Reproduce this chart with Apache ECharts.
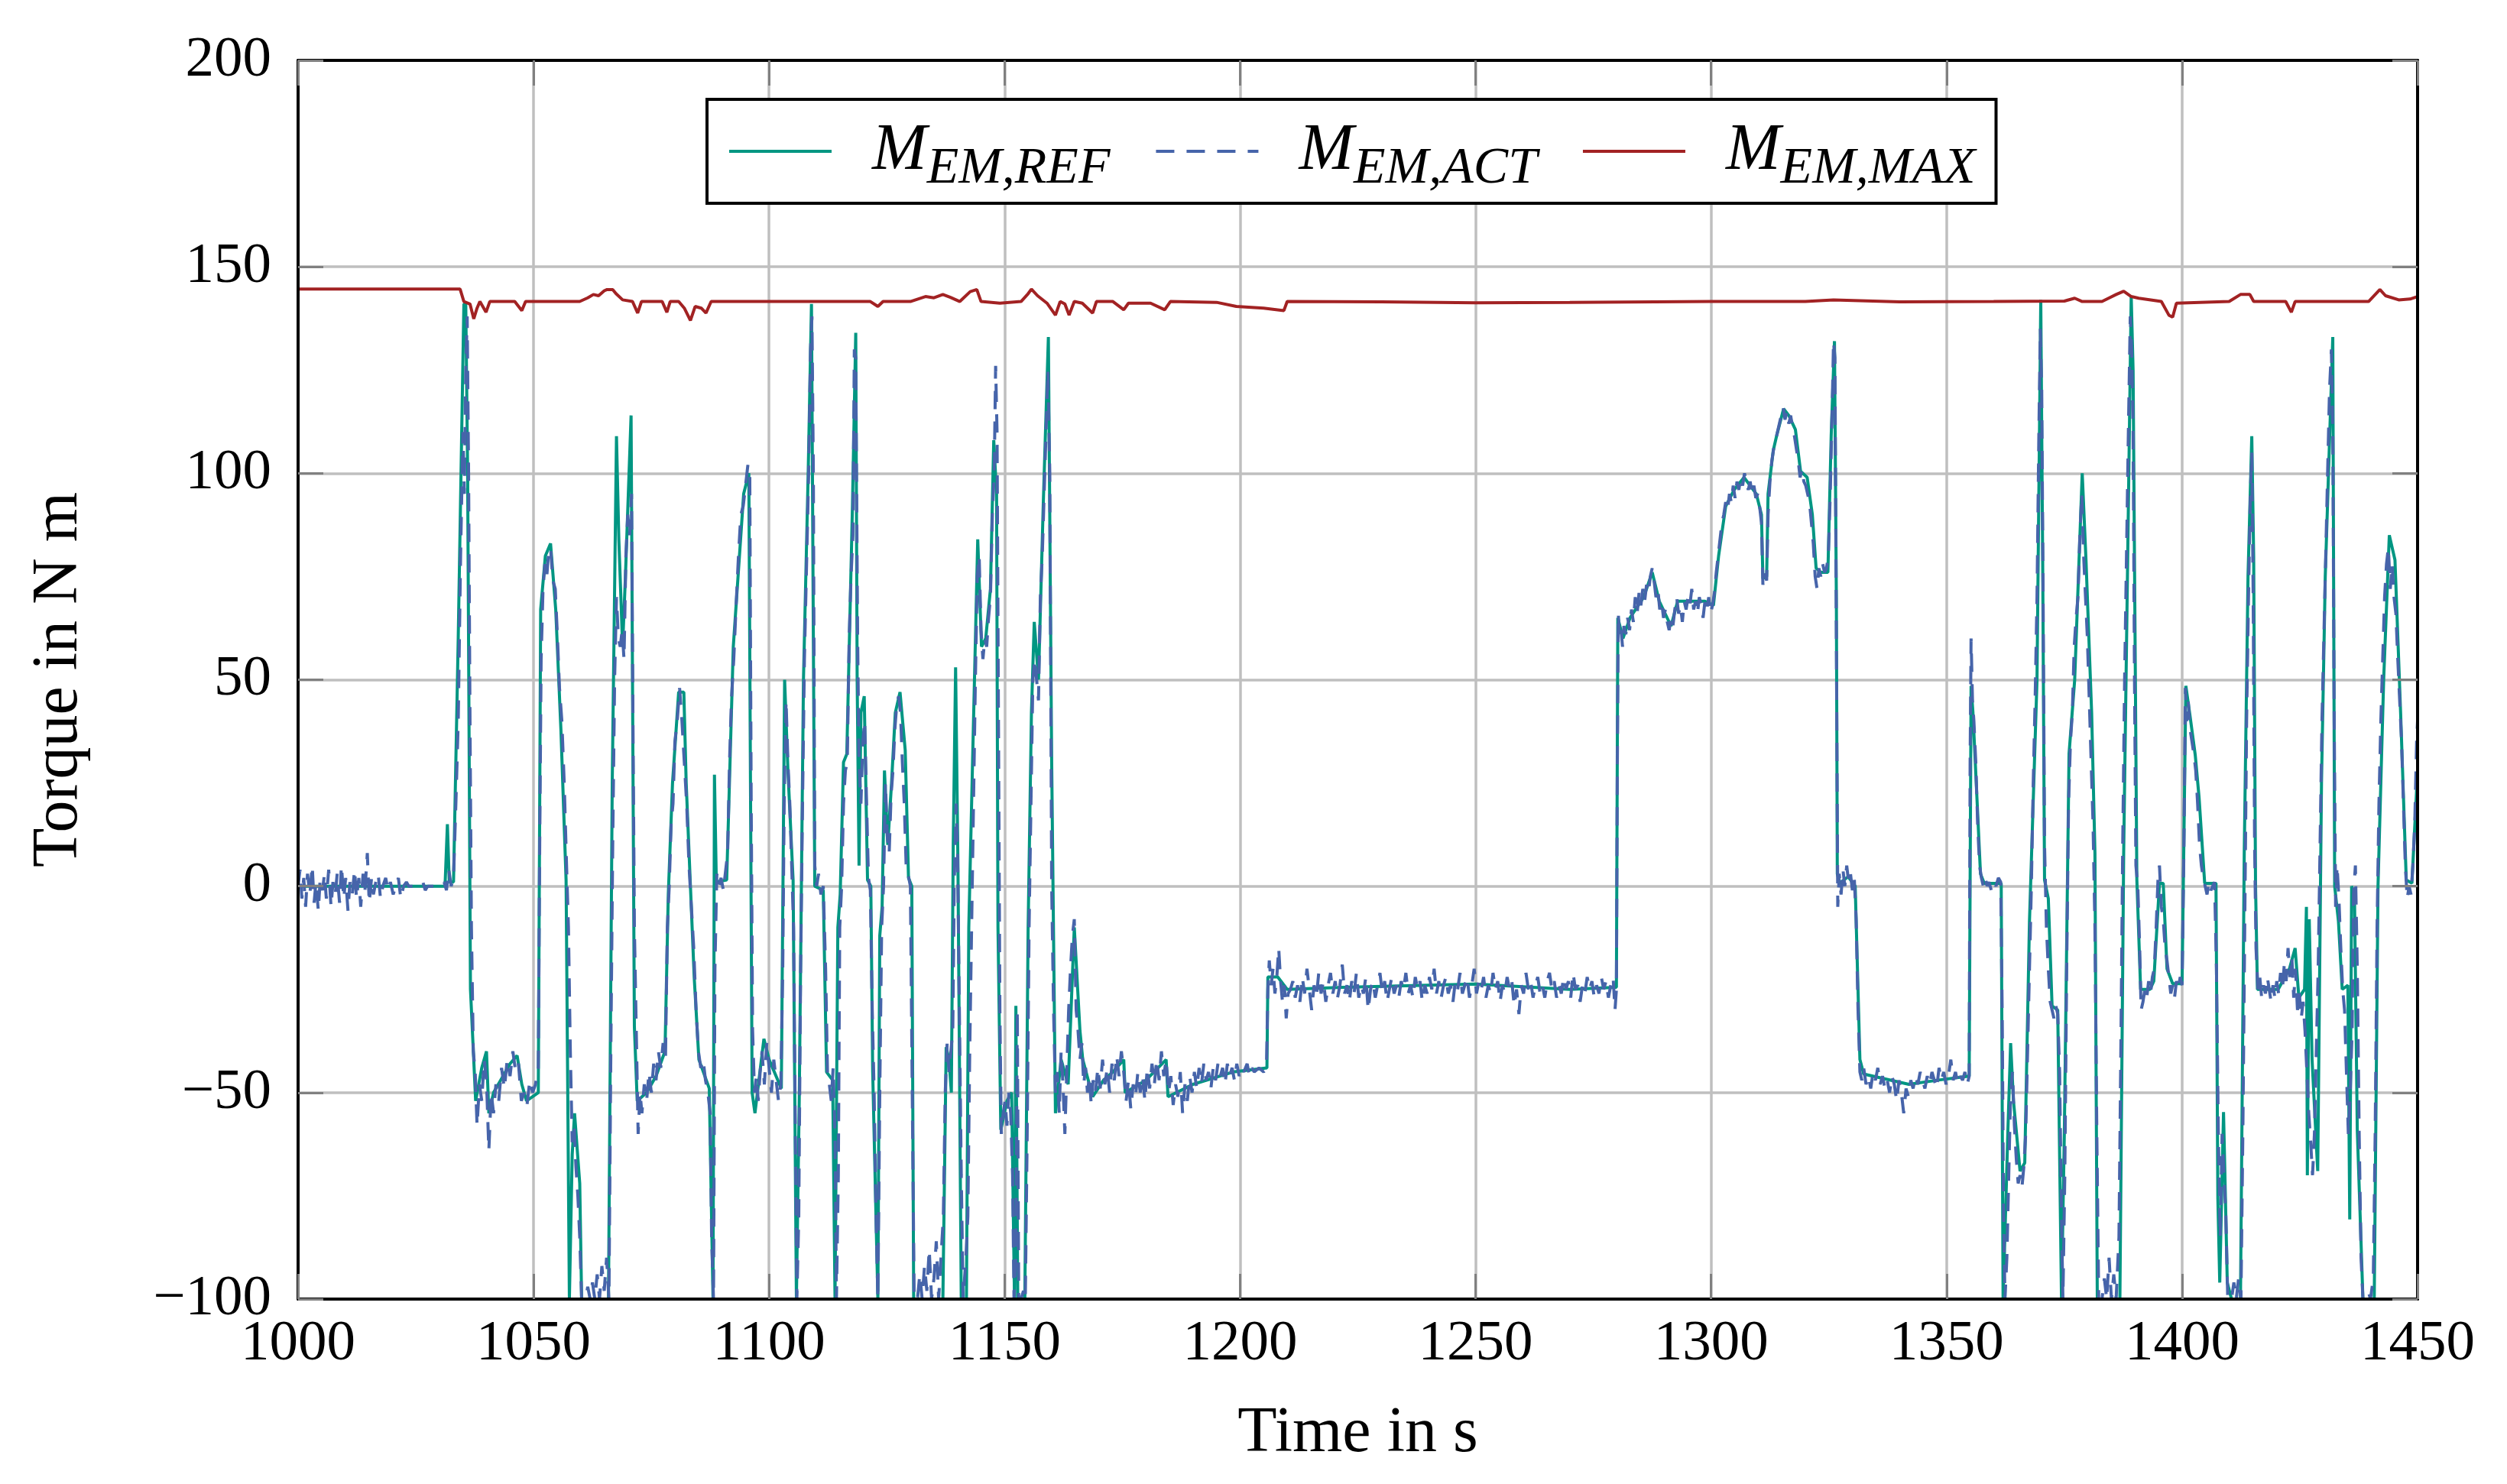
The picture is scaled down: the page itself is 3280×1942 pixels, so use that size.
<!DOCTYPE html>
<html>
<head>
<meta charset="utf-8">
<title>Torque</title>
<script src="https://cdn.jsdelivr.net/npm/echarts@6/dist/echarts.min.js"></script>
<style>
  html, body { margin: 0; padding: 0; background: #fff; }
  #chart { width: 3280px; height: 1942px; }
</style>
</head>
<body>
<div id="chart"></div>
<script>
// axis ticks
const timeTicks = [1000, 1450, 50];
const torqueTicks = [-100, 200, 50];

// reference torque [time s, torque N m]
const refTorque = [
  [1000,0],[1031.2,0],[1031.7,15],[1032.1,1],[1033,1],[1034,60],[1035.2,141],[1035.6,141],[1036,100],
  [1036.6,-25],[1037.7,-52],[1039,-44],[1040,-40],[1040.5,-55],[1041.5,-50],[1043,-47],[1045,-43],
  [1046.5,-41],[1047.5,-48],[1048.5,-52],[1051,-50],[1051.5,67],[1052.5,80],[1053.6,83],[1054.7,67],
  [1055.8,38],[1056.9,1.5],[1057.6,-100],[1058.2,-65],[1058.7,-55],[1059.8,-72],[1060.2,-100],
  [1065.9,-100],[1066.7,25],[1067.6,109],[1068.1,84],[1068.9,58],[1069.5,75],[1070.7,114],[1071.4,-34],
  [1072,-52],[1074,-50],[1076,-46],[1077.9,-40],[1078.6,-2],[1079.5,25],[1080.8,47],[1081.9,47],
  [1082.4,25],[1083.3,0],[1084.1,-22],[1085.1,-42],[1087.3,-49],[1088.1,-100],[1088.4,27],[1088.8,1],
  [1091,1.5],[1092.4,58],[1094.6,95],[1095.7,100],[1096.4,-50],[1097,-55],[1098.9,-37],[1100,-42],
  [1102.6,-49],[1103.3,50],[1104,28],[1105.1,1.5],[1105.8,-100],[1106.4,-52],[1107.3,50],[1108.3,100],
  [1109,141],[1109.7,0],[1111.5,-1],[1112.2,-45],[1113.5,-47],[1114,-100],[1114.6,-10],[1115.1,-2],
  [1115.8,30],[1116.5,32],[1117.7,92],[1118.4,134],[1118.7,50],[1119.1,5],[1119.5,42],[1120.2,46],
  [1120.9,1.5],[1121.6,0],[1122,-45],[1123.1,-100],[1123.5,-12],[1124,-5],[1124.5,28],[1125.2,10],
  [1126,25],[1126.8,42],[1127.8,47],[1128.9,33],[1129.6,2],[1130.3,0],[1130.7,-100],[1136.9,-100],
  [1137.6,-39],[1138.2,-42],[1138.7,-50],[1139.1,10],[1139.6,53],[1140.1,5],[1140.8,-100],[1141.9,-100],
  [1142.4,-10],[1143.2,30],[1144.3,84],[1145.1,58],[1146,60],[1147,72],[1147.7,108],[1148.3,95],
  [1148.6,-10],[1149.2,-59],[1150.5,-52],[1151.5,-50],[1152.1,-100],[1152.4,-29],[1152.8,-100],
  [1154.3,-100],[1155,-10],[1155.7,42],[1156.3,64],[1157.2,50],[1158.2,92],[1159.3,133],[1160,30],
  [1160.8,-55],[1162,-42],[1163.5,-48],[1164.8,-10],[1166,-35],[1166.6,-42],[1168.7,-51],[1171,-47],
  [1173,-45],[1175.3,-42],[1175.6,-50],[1180,-47],[1184.3,-42],[1184.7,-51],[1190,-48],[1198.5,-45],
  [1205.7,-44],[1205.9,-22],[1208,-22],[1210,-25],[1222,-24.5],[1250,-23.7],[1270,-25],[1279.9,-24.5],
  [1280.2,65],[1281.3,60],[1282.8,65],[1285.7,70],[1287.5,76],[1289,69],[1291.5,63],[1292.9,69],
  [1298.7,69],[1300.5,68],[1301.6,80],[1303.1,92],[1304.9,96],[1307,99],[1309.6,95],[1310.7,90],
  [1311,74.5],[1311.8,75],[1312.1,95],[1313.2,105.5],[1313.9,109],[1315.4,115.6],[1316.5,114],
  [1317.9,110.6],[1319,100.5],[1320.4,99],[1321.5,90],[1322.3,77],[1323.3,76],[1324.8,76],[1325.5,109],
  [1326.2,132],[1326.6,70],[1326.8,3],[1327.3,0.7],[1329.1,2.3],[1330.6,0],[1331.6,-42],[1332.4,-45.5],
  [1342,-48],[1348,-47],[1354.8,-46],[1355.2,48.5],[1355.6,42],[1357.2,3],[1358,0.7],[1361.6,0.7],
  [1362,-100],[1363,-60],[1363.6,-38],[1364.2,-52],[1365.6,-69],[1366.6,-67],[1367.6,-8.5],[1369.2,50],
  [1370,142],[1370.4,80],[1370.8,1.5],[1371.6,-3],[1372.4,-29],[1373.6,-30],[1374.4,-100],[1375,-60],
  [1376,32],[1377.2,50],[1378,75],[1378.8,100],[1379.6,79],[1380.8,42],[1381.5,8],[1382,-100],
  [1386.8,-100],[1387.6,8],[1388.4,75],[1389.2,143],[1389.6,125],[1390.4,1.5],[1391.2,-25],[1393.2,-25],
  [1394,-23],[1395.2,0.7],[1396,0.7],[1396.8,-20],[1398,-23.6],[1400,-23.6],[1400.8,48.5],[1401.6,42],
  [1402.8,31.7],[1403.6,21.6],[1404.8,0.7],[1407.2,0.7],[1407.6,-75.7],[1408,-96],[1408.8,-54.7],
  [1409.6,-96],[1410.5,-100],[1412.4,-100],[1413.2,8],[1414,75],[1414.8,109],[1415.2,80],[1415.6,0],
  [1416,-25],[1420.4,-25],[1422.8,-20],[1424,-15],[1424.8,-27],[1426,-25],[1426.4,-5],[1426.6,-70],
  [1427,-8],[1427.6,-42],[1428.8,-69],[1429.6,25],[1430.4,75],[1432,133],[1432.4,0],[1433.2,-8.5],
  [1434,-25],[1435.2,-24],[1435.6,-80.7],[1436,0],[1436.6,-2],[1437.2,-59],[1438.4,-100],[1440.8,-100],
  [1441.6,0],[1442.8,50],[1444,85],[1445.2,79],[1446.4,42],[1447.6,1.5],[1448.8,0.7],[1450,28]
];

// actual (measured) torque [time s, torque N m]
const actTorque = [
  [1000,0],[1000.4,4],[1000.8,-3],[1001.2,2],[1001.6,-5],[1002,3],[1002.5,-2],[1003,5],[1003.4,-4],
  [1003.8,1],[1004.3,-6],[1004.7,2],[1005.2,-1],[1005.6,3],[1006,-3],[1006.5,4],[1007,-5],[1007.4,1],
  [1007.9,-2],[1008.3,3],[1008.8,-4],[1009.2,5],[1009.7,-3],[1010.1,2],[1010.6,-6],[1011,1],[1011.5,-2],
  [1012,4],[1012.4,-3],[1012.9,2],[1013.3,-5],[1013.8,3],[1014.2,-1],[1014.7,8],[1015.1,-4],[1015.6,2],
  [1016,-2],[1016.5,1],[1017,3],[1017.5,-3],[1018,0],[1018.6,2],[1019.1,-1],[1019.6,1],[1020.2,-2],
  [1020.7,0],[1021.3,2],[1021.8,-3],[1022.4,0],[1023,1],[1023.5,0],[1025,0],[1026.5,1],[1027,-1],
  [1027.5,0],[1030,0],[1031,1],[1031.5,-1],[1032,4],[1032.5,0],[1033,2],[1033.5,20],[1034,40],
  [1034.5,80],[1035,110],[1035.3,95],[1035.6,125],[1035.9,138],[1036.2,100],[1036.5,40],[1036.8,-10],
  [1037.2,-40],[1037.6,-45],[1038,-58],[1038.5,-48],[1039,-52],[1039.5,-42],[1040,-47],[1040.5,-64],
  [1041,-50],[1041.5,-55],[1042,-48],[1042.6,-52],[1043.2,-44],[1043.8,-49],[1044.4,-42],[1045,-46],
  [1045.6,-40],[1046.2,-45],[1046.8,-43],[1047.4,-52],[1048,-50],[1048.6,-53],[1049.2,-47],[1049.8,-50],
  [1050.4,-48],[1051,-44],[1051.3,10],[1051.6,55],[1052,72],[1052.4,78],[1052.8,75],[1053.2,81],
  [1053.6,82],[1054.1,74],[1054.6,72],[1055,62],[1055.5,48],[1056,40],[1056.5,25],[1057,5],[1057.4,-10],
  [1057.8,-40],[1058.2,-62],[1058.6,-58],[1059,-68],[1059.4,-75],[1059.8,-85],[1060.2,-100],[1061,-100],
  [1061.5,-97],[1062,-100],[1062.5,-96],[1063,-100],[1063.5,-94],[1064,-100],[1064.5,-92],[1065,-98],
  [1065.5,-90],[1066,-100],[1066.4,-40],[1066.8,10],[1067.2,50],[1067.6,70],[1068,60],[1068.4,58],
  [1068.8,62],[1069.2,55],[1069.6,80],[1070,90],[1070.4,85],[1070.8,95],[1071.1,40],[1071.4,-10],
  [1071.8,-35],[1072.2,-60],[1072.6,-50],[1073,-55],[1073.5,-48],[1074,-52],[1074.5,-45],[1075,-50],
  [1075.5,-43],[1076,-47],[1076.5,-40],[1077,-44],[1077.5,-38],[1078,-42],[1078.4,-10],[1078.8,0],
  [1079.2,15],[1079.6,20],[1080,35],[1080.5,40],[1081,48],[1081.5,40],[1082,30],[1082.5,20],[1083,5],
  [1083.5,-5],[1084,-15],[1084.5,-30],[1085,-40],[1085.5,-44],[1086,-42],[1086.5,-47],[1087,-50],
  [1087.5,-55],[1087.8,-85],[1088.2,-100],[1088.5,-20],[1088.9,3],[1089.3,0],[1089.8,2],[1090.3,-1],
  [1090.8,4],[1091.2,8],[1091.6,30],[1092,45],[1092.5,55],[1093,68],[1093.5,80],[1094,90],[1094.5,92],
  [1095,97],[1095.5,102],[1095.9,100],[1096.2,20],[1096.5,-35],[1096.9,-50],[1097.3,-46],[1097.7,-52],
  [1098.1,-45],[1098.5,-40],[1099,-48],[1099.5,-38],[1100,-44],[1100.5,-50],[1101,-42],[1101.5,-47],
  [1102,-52],[1102.5,-48],[1102.9,-20],[1103.2,20],[1103.6,45],[1104,30],[1104.4,20],[1104.8,5],
  [1105.2,-10],[1105.5,-50],[1105.9,-100],[1106.3,-80],[1106.7,-20],[1107.1,20],[1107.5,55],[1108,80],
  [1108.4,100],[1108.8,130],[1109.1,138],[1109.4,100],[1109.7,5],[1110.1,0],[1110.5,3],[1111,-2],
  [1111.5,0],[1112,-20],[1112.4,-45],[1112.8,-48],[1113.2,-52],[1113.6,-44],[1114,-60],[1114.3,-100],
  [1114.7,-70],[1115,-10],[1115.4,0],[1115.8,20],[1116.2,28],[1116.6,30],[1117,60],[1117.4,75],
  [1117.8,85],[1118.1,130],[1118.4,128],[1118.8,60],[1119.1,30],[1119.5,20],[1119.9,35],[1120.3,40],
  [1120.7,20],[1121.1,2],[1121.5,-1],[1121.9,-30],[1122.3,-50],[1122.7,-80],[1123.1,-100],[1123.5,-50],
  [1123.9,-10],[1124.3,0],[1124.7,25],[1125.1,12],[1125.5,8],[1125.9,22],[1126.3,28],[1126.7,38],
  [1127.1,44],[1127.5,46],[1127.9,42],[1128.3,30],[1128.7,20],[1129.1,5],[1129.5,3],[1130,0],
  [1130.4,-50],[1130.8,-100],[1131.5,-100],[1132,-94],[1132.5,-100],[1133,-92],[1133.5,-98],[1134,-88],
  [1134.5,-100],[1135,-95],[1135.5,-86],[1136,-100],[1136.5,-90],[1137,-80],[1137.4,-50],[1137.8,-38],
  [1138.2,-45],[1138.6,-40],[1139,-35],[1139.3,0],[1139.7,20],[1140,10],[1140.4,-30],[1140.8,-70],
  [1141.2,-100],[1141.8,-90],[1142.2,-80],[1142.6,-40],[1143,-10],[1143.4,20],[1143.8,50],[1144.2,75],
  [1144.6,80],[1145,62],[1145.4,55],[1145.8,60],[1146.2,58],[1146.6,65],[1147,70],[1147.4,90],
  [1147.8,100],[1148.1,126],[1148.4,110],[1148.7,40],[1149,-30],[1149.3,-60],[1149.7,-55],[1150.1,-52],
  [1150.5,-58],[1150.9,-50],[1151.3,-55],[1151.7,-70],[1152,-100],[1152.4,-90],[1152.7,-30],[1153,-100],
  [1153.5,-100],[1154,-98],[1154.4,-100],[1154.8,-60],[1155.2,-10],[1155.6,20],[1156,50],[1156.4,55],
  [1156.8,50],[1157.2,45],[1157.6,70],[1158,80],[1158.4,95],[1158.8,110],[1159.2,125],[1159.6,100],
  [1160,0],[1160.4,-30],[1160.8,-50],[1161.2,-45],[1161.6,-55],[1162,-40],[1162.4,-48],[1162.8,-60],
  [1163.2,-45],[1163.6,-30],[1164,-20],[1164.4,-12],[1164.8,-8],[1165.2,-30],[1165.6,-35],[1166,-42],
  [1166.4,-38],[1166.8,-48],[1167.2,-44],[1167.6,-50],[1168,-46],[1168.4,-53],[1168.8,-47],[1169.3,-50],
  [1169.8,-44],[1170.3,-49],[1170.8,-42],[1171.3,-48],[1171.8,-44],[1172.3,-50],[1172.8,-43],[1173.3,-47],
  [1173.8,-41],[1174.3,-46],[1174.8,-40],[1175.3,-45],[1175.8,-52],[1176.3,-47],[1176.8,-54],[1177.3,-48],
  [1177.8,-51],[1178.3,-45],[1178.8,-50],[1179.3,-46],[1179.8,-52],[1180.3,-44],[1180.8,-49],[1181.3,-43],
  [1181.8,-48],[1182.3,-42],[1182.8,-47],[1183.3,-40],[1183.8,-46],[1184.3,-42],[1184.8,-50],[1185.3,-46],
  [1185.8,-53],[1186.3,-48],[1186.8,-51],[1187.3,-45],[1187.8,-55],[1188.3,-48],[1188.8,-52],[1189.3,-46],
  [1189.8,-50],[1190.3,-45],[1190.8,-49],[1191.3,-44],[1191.8,-48],[1192.3,-43],[1192.8,-47],[1193.3,-45],
  [1193.8,-49],[1194.3,-44],[1194.8,-47],[1195.3,-43],[1195.8,-46],[1196.3,-44],[1196.8,-48],[1197.3,-43],
  [1197.8,-46],[1198.3,-44],[1198.8,-47],[1199.3,-43],[1199.8,-46],[1200.3,-44],[1200.8,-45],[1201.5,-43],
  [1202,-46],[1202.5,-44],[1203,-45],[1204,-44],[1205,-45],[1205.6,-44],[1205.9,-25],[1206.2,-18],
  [1206.6,-24],[1207,-20],[1207.4,-26],[1207.8,-22],[1208.2,-15],[1208.6,-23],[1209,-28],[1209.4,-24],
  [1209.8,-32],[1210.2,-26],[1210.7,-25],[1211.2,-23],[1211.7,-27],[1212.2,-24],[1212.7,-28],[1213.2,-22],
  [1213.7,-26],[1214.2,-20],[1214.7,-25],[1215.2,-30],[1215.7,-24],[1216.2,-27],[1216.7,-21],[1217.2,-26],
  [1217.7,-23],[1218.2,-28],[1218.7,-24],[1219.2,-21],[1219.7,-26],[1220.2,-23],[1220.7,-27],[1221.2,-24],
  [1221.7,-19],[1222.2,-26],[1222.7,-24],[1223.2,-28],[1223.7,-23],[1224.2,-26],[1224.7,-21],[1225.2,-27],
  [1225.7,-24],[1226.2,-26],[1226.7,-22],[1227.2,-30],[1227.7,-25],[1228.2,-23],[1228.7,-27],[1229.2,-24],
  [1229.7,-21],[1230.2,-26],[1230.7,-23],[1231.2,-28],[1231.7,-25],[1232.2,-22],[1232.7,-26],[1233.2,-24],
  [1233.7,-27],[1234.2,-23],[1234.7,-25],[1235.2,-21],[1235.7,-26],[1236.2,-24],[1236.7,-27],[1237.2,-22],
  [1237.7,-25],[1238.2,-23],[1238.7,-28],[1239.2,-24],[1239.7,-26],[1240.2,-22],[1240.7,-25],[1241.2,-20],
  [1241.7,-26],[1242.2,-23],[1242.7,-27],[1243.2,-24],[1243.7,-22],[1244.2,-26],[1244.7,-24],[1245.2,-28],
  [1245.7,-23],[1246.2,-25],[1246.7,-21],[1247.2,-26],[1247.7,-24],[1248.2,-22],[1248.7,-27],[1249.2,-24],
  [1249.7,-20],[1250.2,-26],[1250.7,-23],[1251.2,-25],[1251.7,-22],[1252.2,-27],[1252.7,-24],[1253.2,-26],
  [1253.7,-21],[1254.2,-25],[1254.7,-23],[1255.2,-28],[1255.7,-24],[1256.2,-26],[1256.7,-22],[1257.2,-25],
  [1257.7,-23],[1258.2,-29],[1258.7,-25],[1259.2,-31],[1259.7,-24],[1260.2,-26],[1260.7,-21],[1261.2,-25],
  [1261.7,-23],[1262.2,-27],[1262.7,-24],[1263.2,-22],[1263.7,-26],[1264.2,-24],[1264.7,-27],[1265.2,-23],
  [1265.7,-21],[1266.2,-25],[1266.7,-23],[1267.2,-27],[1267.7,-24],[1268.2,-26],[1268.7,-22],[1269.2,-25],
  [1269.7,-23],[1270.2,-27],[1270.7,-21],[1271.2,-25],[1271.7,-24],[1272.2,-28],[1272.7,-24],[1273.2,-26],
  [1273.7,-22],[1274.2,-25],[1274.7,-23],[1275.2,-27],[1275.7,-24],[1276.2,-26],[1276.7,-22],[1277.2,-25],
  [1277.7,-23],[1278.2,-27],[1278.7,-24],[1279.2,-22],[1279.6,-30],[1279.9,-25],[1280.1,30],[1280.3,66],
  [1280.6,60],[1280.9,62],[1281.2,58],[1281.5,63],[1281.9,61],[1282.3,65],[1282.7,62],[1283.1,67],
  [1283.5,64],[1283.9,70],[1284.3,66],[1284.7,71],[1285.1,68],[1285.5,72],[1285.9,69],[1286.3,73],
  [1286.7,71],[1287.1,75],[1287.5,77],[1287.9,74],[1288.3,70],[1288.7,72],[1289.1,67],[1289.5,69],
  [1289.9,65],[1290.3,67],[1290.7,64],[1291.1,62],[1291.5,65],[1291.9,63],[1292.3,67],[1292.7,70],
  [1293.1,66],[1293.5,68],[1293.9,64],[1294.3,69],[1294.7,67],[1295.1,70],[1295.5,68],[1295.9,72],
  [1296.3,67],[1296.7,69],[1297.1,66],[1297.5,70],[1297.9,68],[1298.3,65],[1298.7,69],[1299.1,67],
  [1299.5,70],[1299.9,66],[1300.3,68],[1300.7,71],[1301.1,76],[1301.5,80],[1301.9,84],[1302.3,88],
  [1302.7,90],[1303.1,93],[1303.5,91],[1303.9,95],[1304.3,93],[1304.7,97],[1305.1,94],[1305.5,98],
  [1305.9,96],[1306.3,99],[1306.7,97],[1307.1,100],[1307.5,98],[1307.9,96],[1308.3,98],[1308.7,95],
  [1309.1,97],[1309.5,94],[1309.9,95],[1310.3,92],[1310.7,88],[1311,73],[1311.4,76],[1311.8,74],
  [1312.1,90],[1312.5,98],[1312.9,103],[1313.3,106],[1313.7,108],[1314.1,110],[1314.5,112],[1314.9,114],
  [1315.3,116],[1315.7,113],[1316.1,115],[1316.5,112],[1316.9,114],[1317.3,111],[1317.7,109],[1318.1,106],
  [1318.5,103],[1318.9,99],[1319.3,101],[1319.7,98],[1320.1,97],[1320.5,95],[1320.9,93],[1321.3,88],
  [1321.7,83],[1322.1,75],[1322.5,72],[1322.9,77],[1323.3,75],[1323.7,78],[1324.1,76],[1324.5,77],
  [1324.9,80],[1325.3,95],[1325.7,115],[1326,132],[1326.3,128],[1326.6,60],[1326.9,-5],[1327.2,3],
  [1327.6,-2],[1328,4],[1328.4,0],[1328.8,5],[1329.2,1],[1329.6,3],[1330,-1],[1330.4,2],[1330.8,-8],
  [1331.2,-30],[1331.6,-45],[1332,-47],[1332.4,-44],[1332.9,-48],[1333.4,-46],[1333.9,-49],[1334.4,-45],
  [1334.9,-47],[1335.4,-44],[1335.9,-48],[1336.4,-46],[1336.9,-49],[1337.4,-47],[1337.9,-50],[1338.4,-46],
  [1338.9,-48],[1339.4,-52],[1339.9,-47],[1340.4,-50],[1340.9,-55],[1341.4,-49],[1341.9,-51],[1342.4,-47],
  [1342.9,-49],[1343.4,-46],[1343.9,-48],[1344.4,-45],[1344.9,-47],[1345.4,-49],[1345.9,-46],[1346.4,-48],
  [1346.9,-45],[1347.4,-47],[1347.9,-49],[1348.4,-44],[1348.9,-47],[1349.4,-45],[1349.9,-48],[1350.4,-46],
  [1350.9,-42],[1351.4,-47],[1351.9,-45],[1352.4,-48],[1352.9,-46],[1353.4,-47],[1353.9,-45],[1354.4,-48],
  [1354.8,-46],[1355,30],[1355.2,60],[1355.5,45],[1355.8,40],[1356.2,30],[1356.6,15],[1357,5],[1357.4,2],
  [1357.8,0],[1358.2,2],[1358.6,0],[1359,1],[1359.5,-1],[1360,1],[1360.5,0],[1361,2],[1361.5,1],
  [1361.8,-30],[1362.1,-80],[1362.4,-100],[1362.8,-90],[1363.2,-70],[1363.6,-50],[1364,-45],[1364.4,-58],
  [1364.8,-66],[1365.2,-72],[1365.6,-70],[1366,-73],[1366.4,-68],[1366.8,-60],[1367.2,-40],[1367.6,-20],
  [1368,0],[1368.4,25],[1368.8,45],[1369.2,70],[1369.6,110],[1369.9,135],[1370.2,120],[1370.5,70],
  [1370.8,10],[1371.2,-10],[1371.6,-20],[1372,-28],[1372.4,-30],[1372.8,-32],[1373.2,-29],[1373.6,-31],
  [1374,-45],[1374.4,-80],[1374.7,-100],[1375.1,-70],[1375.5,-20],[1375.9,20],[1376.3,35],[1376.7,42],
  [1377.1,58],[1377.5,65],[1377.9,70],[1378.3,85],[1378.7,95],[1379.1,80],[1379.5,70],[1379.9,60],
  [1380.3,45],[1380.7,30],[1381.1,15],[1381.5,-10],[1381.9,-60],[1382.3,-100],[1383,-100],[1383.5,-95],
  [1384,-100],[1384.5,-90],[1385,-100],[1385.5,-94],[1386,-100],[1386.6,-85],[1387,-40],[1387.4,10],
  [1387.8,50],[1388.2,80],[1388.6,110],[1389,138],[1389.3,130],[1389.6,110],[1389.9,50],[1390.2,5],
  [1390.6,0],[1391,-15],[1391.3,-30],[1391.7,-28],[1392.1,-25],[1392.5,-27],[1392.9,-23],[1393.3,-26],
  [1393.7,-22],[1394.1,-20],[1394.5,-10],[1394.9,2],[1395.2,5],[1395.6,-5],[1396,-8],[1396.4,-15],
  [1396.8,-18],[1397.2,-22],[1397.6,-26],[1398,-24],[1398.4,-27],[1398.8,-23],[1399.2,-25],[1399.6,-22],
  [1400,-24],[1400.4,10],[1400.7,48],[1401,40],[1401.3,45],[1401.7,38],[1402.1,35],[1402.5,32],
  [1402.9,28],[1403.3,20],[1403.7,10],[1404.1,5],[1404.5,2],[1404.9,0],[1405.3,-2],[1405.7,1],
  [1406.1,-1],[1406.5,0],[1406.9,1],[1407.3,-20],[1407.7,-60],[1408.1,-85],[1408.5,-60],[1408.9,-70],
  [1409.3,-80],[1409.7,-100],[1410.5,-100],[1411,-96],[1411.5,-100],[1412,-95],[1412.5,-100],[1412.9,-60],
  [1413.3,-10],[1413.7,40],[1414.1,70],[1414.5,95],[1414.8,105],[1415.1,70],[1415.4,10],[1415.7,-15],
  [1416.1,-25],[1416.5,-22],[1416.9,-27],[1417.3,-24],[1417.7,-26],[1418.1,-22],[1418.5,-25],[1418.9,-28],
  [1419.3,-24],[1419.7,-27],[1420.1,-23],[1420.5,-26],[1420.9,-21],[1421.3,-25],[1421.7,-19],[1422.1,-23],
  [1422.5,-15],[1422.9,-22],[1423.3,-17],[1423.7,-27],[1424.1,-20],[1424.5,-30],[1424.9,-26],[1425.3,-32],
  [1425.7,-28],[1426.1,-35],[1426.5,-45],[1426.9,-55],[1427.3,-62],[1427.7,-70],[1428.1,-60],[1428.5,-40],
  [1428.9,-20],[1429.3,10],[1429.7,40],[1430.1,60],[1430.5,80],[1430.9,100],[1431.3,120],[1431.7,130],
  [1432,110],[1432.3,40],[1432.6,-5],[1432.9,5],[1433.3,-3],[1433.7,-15],[1434.1,-25],[1434.5,-30],
  [1434.9,-45],[1435.3,-60],[1435.7,-50],[1436.1,-35],[1436.4,-2],[1436.8,5],[1437.2,-20],[1437.6,-60],
  [1438,-90],[1438.4,-100],[1439,-100],[1439.5,-98],[1440,-100],[1440.6,-95],[1441,-60],[1441.4,-10],
  [1441.8,20],[1442.2,40],[1442.6,55],[1443,70],[1443.4,78],[1443.8,82],[1444.2,72],[1444.6,78],
  [1445,70],[1445.4,66],[1445.8,55],[1446.2,45],[1446.6,35],[1447,20],[1447.4,5],[1447.8,-3],
  [1448.2,0],[1448.6,-2],[1449,5],[1449.4,15],[1449.8,35],[1450,40]
];

// maximum available torque [time s, torque N m]
const maxTorque = [
  [1000,144.6],[1034.4,144.6],[1035.2,141.6],[1036.5,141],[1037.3,137.4],[1038,140],[1038.6,141.6],
  [1039.9,139],[1040.7,141.6],[1046,141.6],[1047.5,139.4],[1048.3,141.6],[1059.8,141.6],[1061.5,142.5],
  [1062.7,143.3],[1063.8,143],[1065,144.2],[1065.6,144.5],[1066.8,144.5],[1067.5,143.5],[1068.9,142],
  [1071,141.6],[1072.1,138.8],[1072.9,141.6],[1077.3,141.6],[1078.3,139],[1079,141.6],[1080.8,141.6],
  [1082,140],[1083.3,137],[1084.3,140.4],[1085.6,140],[1086.6,138.8],[1087.7,141.6],[1121.5,141.6],
  [1123.1,140.4],[1124.2,141.6],[1130,141.6],[1133.2,142.8],[1135,142.5],[1136.9,143.3],[1138.5,142.6],
  [1140.5,141.6],[1142.7,144],[1144.1,144.5],[1145,141.6],[1149,141.2],[1153.5,141.6],[1155,143.5],
  [1155.7,144.6],[1157,143],[1159,141.2],[1160.8,138.3],[1161.8,141.6],[1162.8,141],[1163.7,138.3],
  [1164.8,141.6],[1166.5,141.2],[1168.7,138.8],[1169.5,141.6],[1173,141.6],[1175.3,139.6],[1176.3,141.2],
  [1181,141.2],[1184,139.6],[1185.2,141.6],[1195,141.4],[1199.2,140.4],[1205,140],[1209.3,139.4],
  [1210,141.6],[1230,141.5],[1250,141.3],[1270,141.4],[1300,141.6],[1320,141.6],[1326,142],[1340,141.5],
  [1360,141.6],[1375,141.7],[1377.2,142.4],[1378.8,141.6],[1383,141.6],[1384.4,142.4],[1386,143.3],
  [1387.6,144.1],[1389.2,142.8],[1390.8,142.4],[1395.6,141.6],[1397.2,138.3],[1398,137.8],[1398.8,141.2],
  [1410,141.6],[1412.4,143.3],[1414.4,143.3],[1415.2,141.6],[1422,141.6],[1423.2,139],[1424,141.6],
  [1439.6,141.6],[1442,144.5],[1443.2,143],[1446,142],[1448.4,142.2],[1450,142.8]
];

const seriesNames = ['EM,REF', 'EM,ACT', 'EM,MAX'];
const seriesColors = ['#009682', '#4664AA', '#A22223'];

const FONT = 'Liberation Serif';
const frameColor = '#000000';
const tickColor = '#808080';

function minusSign(v) {
    return String(v).replace('-', '\u2212');
}

var chart = echarts.init(document.getElementById('chart'), null, {renderer: 'canvas'});

// plain axis copy that only draws the frame and the inner ticks, on top of the lines
function frameAxis(base, position) {
    return {
        type: 'value',
        position: position,
        min: base[0], max: base[1], interval: base[2],
        z: 10,
        axisLine: {show: true, onZero: false, lineStyle: {color: frameColor, width: 4}},
        axisTick: {show: true, inside: true, length: 33, lineStyle: {color: tickColor, width: 3}},
        axisLabel: {show: false},
        splitLine: {show: false}
    };
}

var option = {
    backgroundColor: '#ffffff',
    animation: false,
    grid: {left: 390, right: 117, top: 79, bottom: 242, containLabel: false},
    legend: {
        left: 925,
        top: 130,
        orient: 'horizontal',
        padding: [11, 27, 11, 27],
        itemGap: 58,
        itemWidth: 134,
        itemHeight: 24,
        borderColor: '#000',
        borderWidth: 4,
        backgroundColor: '#fff',
        data: seriesNames,
        itemStyle: {opacity: 0},
        lineStyle: {width: 4},
        formatter: function (name) {
            return '{m|M}{s|' + name + '}';
        },
        textStyle: {
            rich: {
                m: {fontFamily: FONT, fontStyle: 'italic', fontSize: 86, lineHeight: 86, color: '#000', padding: [0, 0, 0, 48]},
                s: {fontFamily: FONT, fontStyle: 'italic', fontSize: 68, lineHeight: 68, color: '#000', padding: [46, 0, 0, 0]}
            }
        }
    },
    xAxis: [
        {
            type: 'value',
            min: timeTicks[0], max: timeTicks[1], interval: timeTicks[2],
            name: 'Time in s',
            nameLocation: 'middle',
            nameGap: 135,
            nameTextStyle: {fontFamily: FONT, fontSize: 84, color: '#000'},
            axisLine: {show: false},
            axisTick: {show: false},
            axisLabel: {fontFamily: FONT, fontSize: 75, color: '#000', margin: 22, formatter: function (v) { return String(v); }},
            splitLine: {show: true, lineStyle: {color: '#bfbfbf', width: 3.5}}
        },
        frameAxis(timeTicks, 'bottom'),
        frameAxis(timeTicks, 'top')
    ],
    yAxis: [
        {
            type: 'value',
            min: torqueTicks[0], max: torqueTicks[1], interval: torqueTicks[2],
            name: 'Torque in N m',
            nameLocation: 'middle',
            nameGap: 270,
            nameTextStyle: {fontFamily: FONT, fontSize: 84, color: '#000'},
            axisLine: {show: false},
            axisTick: {show: false},
            axisLabel: {fontFamily: FONT, fontSize: 75, color: '#000', margin: 35, formatter: minusSign},
            splitLine: {show: true, lineStyle: {color: '#bfbfbf', width: 3.5}}
        },
        frameAxis(torqueTicks, 'left'),
        frameAxis(torqueTicks, 'right')
    ],
    series: [
        {
            name: seriesNames[0],
            type: 'line',
            data: refTorque,
            showSymbol: false,
            symbol: 'none',
            clip: true,
            lineStyle: {color: seriesColors[0], width: 4},
            itemStyle: {color: seriesColors[0]}
        },
        {
            name: seriesNames[1],
            type: 'line',
            data: actTorque,
            showSymbol: false,
            symbol: 'none',
            clip: true,
            lineStyle: {color: seriesColors[1], width: 4, type: [24, 16]},
            itemStyle: {color: seriesColors[1]}
        },
        {
            name: seriesNames[2],
            type: 'line',
            data: maxTorque,
            showSymbol: false,
            symbol: 'none',
            clip: true,
            lineStyle: {color: seriesColors[2], width: 4},
            itemStyle: {color: seriesColors[2]}
        }
    ]
};

if (option && typeof option === 'object') {
    chart.setOption(option, true);
}
</script>
</body>
</html>
